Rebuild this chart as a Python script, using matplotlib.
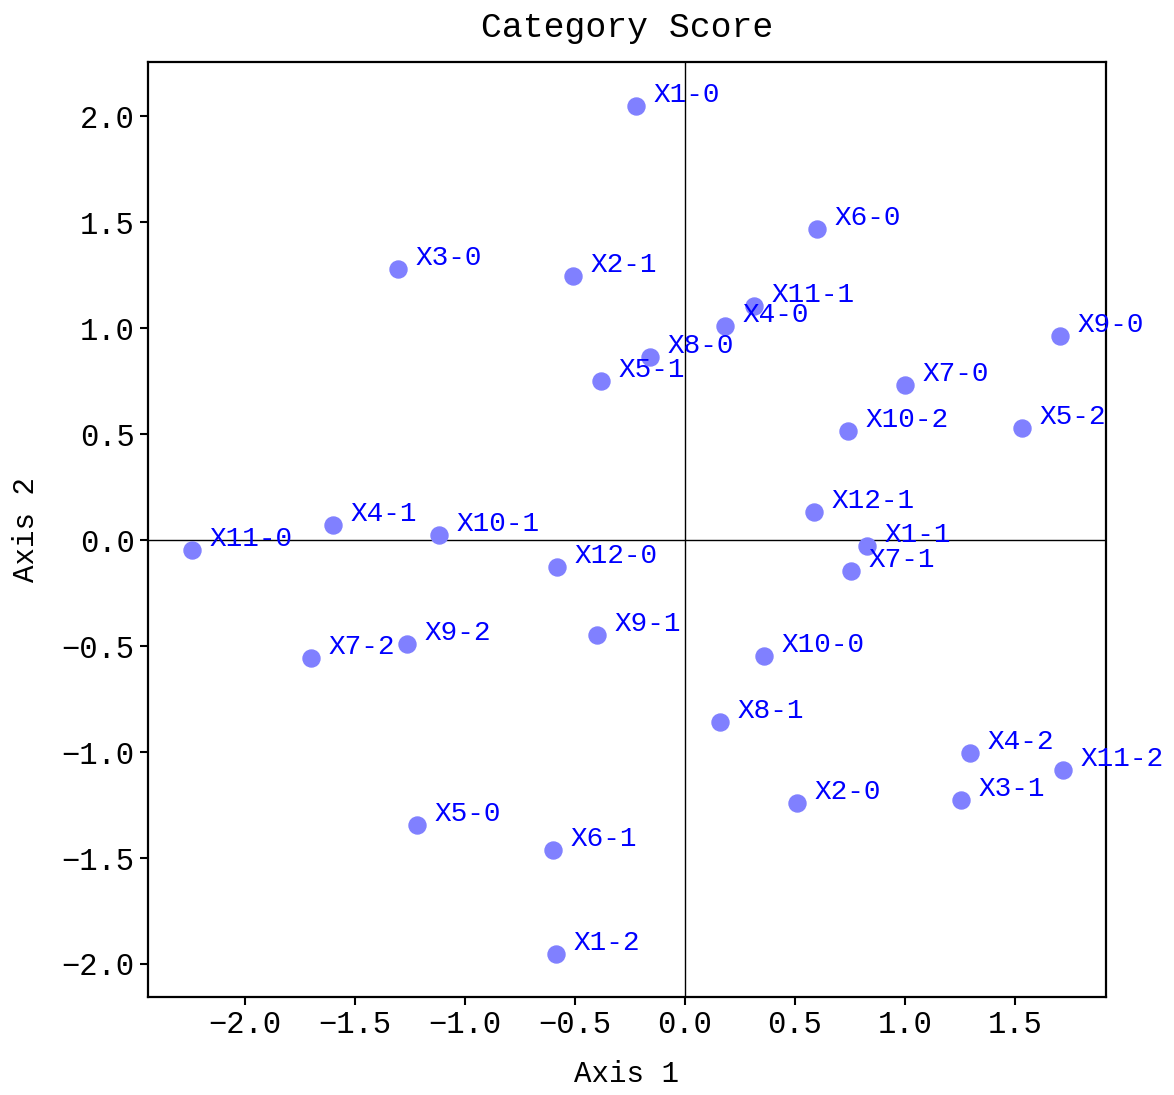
import matplotlib
matplotlib.use("Agg")
import matplotlib.pyplot as plt

plt.rcParams["font.family"] = ["Liberation Mono", "DejaVu Sans Mono"]

labels = ["X1-0", "X6-0", "X3-0", "X2-1", "X11-1", "X4-0", "X9-0", "X8-0",
          "X5-1", "X7-0", "X10-2", "X5-2", "X12-1", "X4-1", "X10-1", "X11-0",
          "X1-1", "X7-1", "X12-0", "X9-1", "X9-2", "X7-2", "X10-0", "X8-1",
          "X4-2", "X11-2", "X3-1", "X2-0", "X5-0", "X6-1", "X1-2"]
axis1 = [-0.223, 0.600, -1.305, -0.509, 0.314, 0.182, 1.705, -0.159,
         -0.382, 1.000, 0.741, 1.532, 0.586, -1.600, -1.118, -2.241,
         0.827, 0.755, -0.582, -0.400, -1.264, -1.700, 0.359, 0.159,
         1.295, 1.718, 1.255, 0.509, -1.218, -0.600, -0.586]
axis2 = [2.047, 1.467, 1.278, 1.245, 1.104, 1.009, 0.962, 0.863,
         0.750, 0.731, 0.514, 0.528, 0.132, 0.071, 0.024, -0.047,
         -0.028, -0.146, -0.127, -0.448, -0.491, -0.557, -0.547, -0.858,
         -1.005, -1.085, -1.226, -1.241, -1.344, -1.462, -1.953]

fig = plt.figure(figsize=(11.74, 10.95), dpi=100)
ax = fig.add_axes([0.126, 0.0895, 0.816, 0.8535])

ax.scatter(axis1, axis2, s=150, color="#8080ff", zorder=3)
for x, y, lab in zip(axis1, axis2, labels):
    # label sits just right of the marker, baseline near its centre
    ax.text(x + 0.08, y + 0.02, lab, color="blue", fontsize=20, va="baseline", zorder=4)

ax.axhline(0, color="black", lw=1.0)
ax.axvline(0, color="black", lw=1.0)

ax.set_xlim(-2.44, 1.914)
ax.set_ylim(-2.156, 2.255)
ax.set_xticks([-2.0, -1.5, -1.0, -0.5, 0.0, 0.5, 1.0, 1.5])
ax.set_yticks([-2.0, -1.5, -1.0, -0.5, 0.0, 0.5, 1.0, 1.5, 2.0])
ax.tick_params(labelsize=22, width=1.5, length=6)
for sp in ax.spines.values():
    sp.set_linewidth(1.6)

ax.set_xlabel("Axis 1", fontsize=21, labelpad=14)
ax.set_ylabel("Axis 2", fontsize=21, labelpad=16)
ax.set_title("Category Score", fontsize=25, pad=18)

fig.savefig("out.png", dpi=100)
